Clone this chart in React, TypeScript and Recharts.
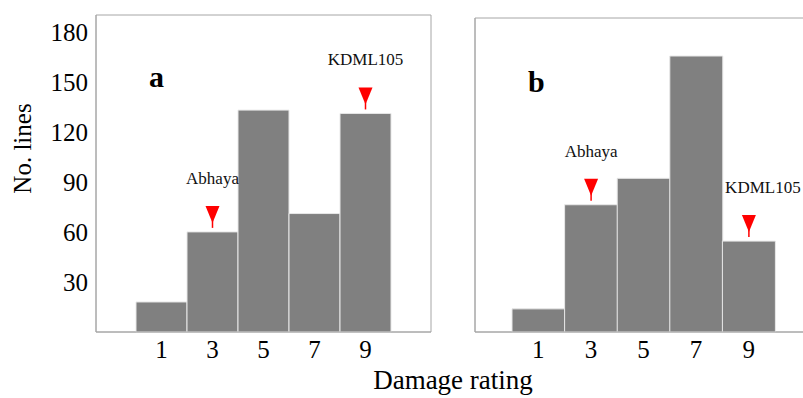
import { BarChart, Bar, XAxis, YAxis, LabelList, CartesianGrid } from "recharts"

const ratings = ["1", "3", "5", "7", "9"]
const linesA = [18, 60, 133, 71, 131]
const linesB = [14, 77, 93, 167, 55]
const yTicks = [30, 60, 90, 120, 150, 180]
const markersA: Record<string, string> = { "3": "Abhaya", "9": "KDML105" }
const markersB: Record<string, string> = { "3": "Abhaya", "9": "KDML105" }

const serif = "'Liberation Serif', 'Times New Roman', Times, serif"
const frame = "#a6a6a6"
const barFill = "#808080"

const buildRows = (values: number[], markers: Record<string, string>) =>
  ratings.map((r, i) => ({ rating: r, lines: values[i], note: markers[r] ?? "" }))

// red arrow + variety name above the marked bars
const makeMarker = (shift: Record<string, number>) => (props: any) => {
  const { x, y, width, value } = props
  if (!value) return null
  const cx = Number(x) + Number(width) / 2
  const tip = Number(y) - 4
  return (
    <g>
      <polygon points={`${cx - 7},${tip - 22} ${cx + 7},${tip - 22} ${cx},${tip - 5}`} fill="#ff0000" />
      <line x1={cx} x2={cx} y1={tip - 8} y2={tip} stroke="#ff0000" strokeWidth={1.5} />
      <text
        x={cx + (shift[value] ?? 0)}
        y={tip - 44}
        textAnchor="middle"
        fontSize={17}
        fill="#111"
        style={{ fontFamily: serif }}
      >
        {value}
      </text>
    </g>
  )
}

// grid lines only on the plot edges -> box frame
const edgesY = ({ offset }: any) => [offset.top, offset.top + offset.height]
const edgesX = ({ offset }: any) => [offset.left, offset.left + offset.width]

interface PanelProps {
  values: number[]
  markers: Record<string, string>
  width: number
  top: number
  right: number
  axisWidth: number
  pad: number
  showTicks: boolean
  shift?: Record<string, number>
}

function Panel({ values, markers, width, top, right, axisWidth, pad, showTicks, shift = {} }: PanelProps) {
  const rows = buildRows(values, markers)
  return (
    <BarChart width={width} height={398} data={rows} margin={{ top, right, bottom: 36, left: 0 }} barCategoryGap={0}>
      <CartesianGrid
        stroke={frame}
        strokeWidth={1}
        horizontalCoordinatesGenerator={edgesY}
        verticalCoordinatesGenerator={edgesX}
      />
      <XAxis
        dataKey="rating"
        height={30}
        padding={{ left: pad, right: pad }}
        tickLine={false}
        axisLine={{ stroke: frame }}
        tick={{ fill: "#000", fontSize: 25, fontFamily: serif }}
      />
      <YAxis
        width={axisWidth}
        domain={[0, 190]}
        ticks={yTicks}
        tick={showTicks ? { fill: "#000", fontSize: 25, fontFamily: serif } : false}
        tickLine={false}
        axisLine={{ stroke: frame }}
      />
      <Bar dataKey="lines" fill={barFill} stroke="#e8e8e8" strokeWidth={1} isAnimationActive={false}>
        <LabelList dataKey="note" content={makeMarker(shift)} />
      </Bar>
    </BarChart>
  )
}

export default function App() {
  return (
    <div
      style={{
        position: "absolute",
        left: 0,
        top: 0,
        width: 803,
        height: 398,
        overflow: "hidden",
        background: "#fff",
        fontFamily: serif,
      }}
    >
      <div style={{ position: "absolute", left: 0, top: 0 }}>
        <Panel values={linesA} markers={markersA} width={440} top={15} right={9} axisWidth={96} pad={40} showTicks />
      </div>
      <div style={{ position: "absolute", left: 440, top: 0 }}>
        <Panel
          values={linesB}
          markers={markersB}
          width={380}
          top={18}
          right={8}
          axisWidth={35}
          pad={37}
          showTicks={false}
          shift={{ KDML105: 14 }}
        />
      </div>
      <div style={{ position: "absolute", left: 149, top: 62, fontSize: 30, lineHeight: "30px", fontWeight: "bold" }}>a</div>
      <div style={{ position: "absolute", left: 528, top: 67, fontSize: 30, lineHeight: "30px", fontWeight: "bold" }}>b</div>
      <div
        style={{
          position: "absolute",
          left: -78,
          top: 136,
          width: 200,
          textAlign: "center",
          fontSize: 25,
          lineHeight: "25px",
          transform: "rotate(-90deg)",
        }}
      >
        No. lines
      </div>
      <div
        style={{
          position: "absolute",
          left: 303,
          top: 367,
          width: 300,
          textAlign: "center",
          fontSize: 27,
          lineHeight: "27px",
        }}
      >
        Damage rating
      </div>
    </div>
  )
}
